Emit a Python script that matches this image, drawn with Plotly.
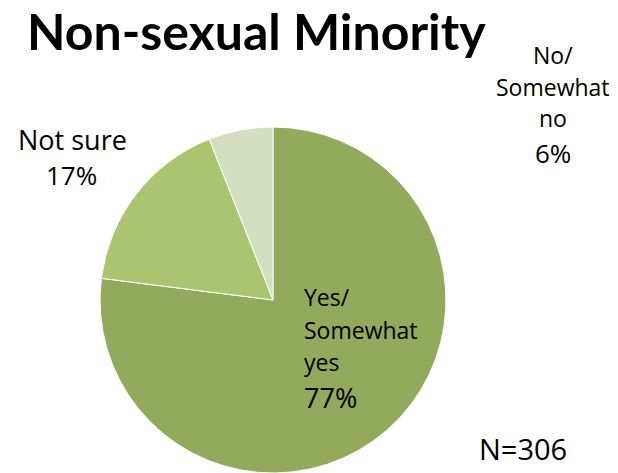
import plotly.graph_objects as go

W, H = 618, 473

labels = ["Yes/ Somewhat yes", "Not sure", "No/ Somewhat no"]
values = [77, 17, 6]
colors = ["#93A95C", "#ABC470", "#D3DFBF"]
title_text = "Non-sexual Minority"
n_text = "N=306"

FONT = "Open Sans"
TITLE_FONT = "Lato"

# pie placement in pixels
cx, r = 273, 173

def px(x):
    return x / W

def py(y):
    return 1 - y / H

fig = go.Figure(
    go.Pie(
        labels=labels,
        values=values,
        sort=False,
        direction="clockwise",
        rotation=0,
        textinfo="none",
        hoverinfo="label+percent",
        marker=dict(colors=colors, line=dict(color="white", width=1)),
        domain=dict(x=[px(cx - r), px(cx + r)], y=[0, 2 * r / H]),
        showlegend=False,
    )
)

def label(x, y, text, size, anchor="center", bold=False, family=FONT):
    fig.add_annotation(
        x=px(x), y=py(y), xref="paper", yref="paper",
        text=f"<b>{text}</b>" if bold else text,
        showarrow=False, xanchor=anchor, yanchor="middle",
        align=anchor if anchor != "center" else "center",
        font=dict(family=family, size=size, color="black"),
    )

label(25, 31, title_text, 50, anchor="left", bold=True, family=TITLE_FONT)

pct = {lab: f"{v}%" for lab, v in zip(labels, values)}

# No/ Somewhat no
label(553, 55, "No/", 23)
label(553, 87, "Somewhat", 23)
label(553, 118, "no", 23)
label(553, 153, pct[labels[2]], 26)

# Not sure
label(72, 139, "Not sure", 27)
label(71, 175, pct[labels[1]], 26)

# Yes/ Somewhat yes
label(302, 297, "Yes/", 23, anchor="left")
label(302, 330, "Somewhat", 23, anchor="left")
label(302, 362, "yes", 23, anchor="left")
label(302, 397, pct[labels[0]], 27, anchor="left")

label(523, 448, n_text, 29)

fig.update_layout(
    width=W, height=H,
    margin=dict(l=0, r=0, t=0, b=0),
    paper_bgcolor="white",
    plot_bgcolor="white",
)

fig.write_html("out.html")
